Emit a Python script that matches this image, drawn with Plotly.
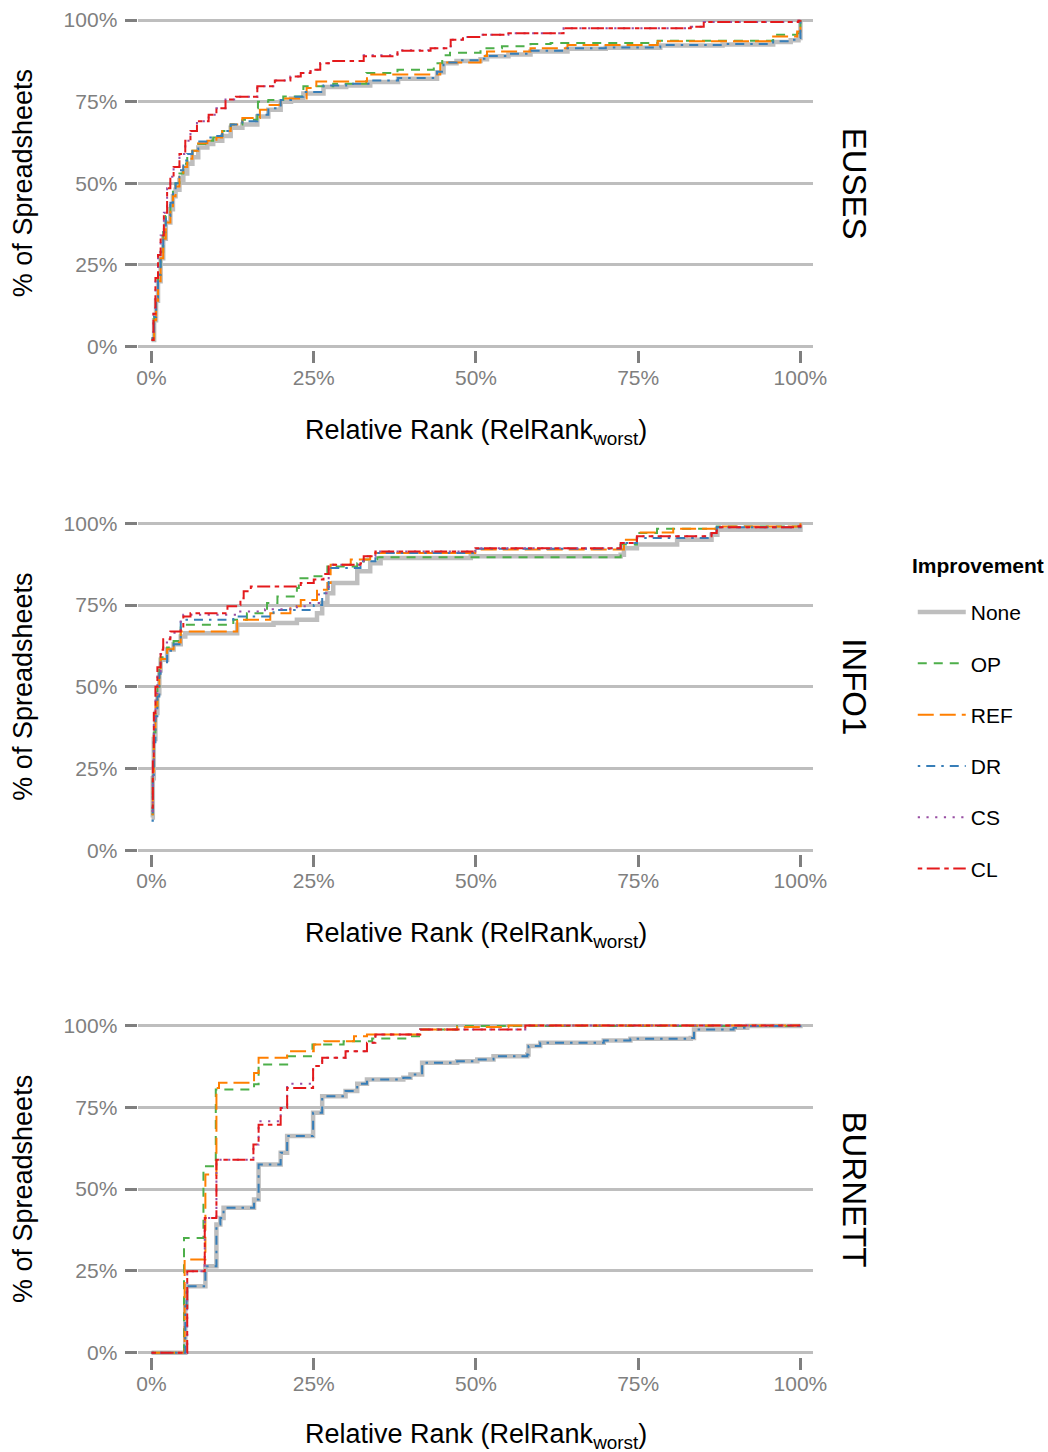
import plotly.graph_objects as go

# ---------------- data (x = relative rank %, y = % of spreadsheets) ----------------
PANELS = ["EUSES", "INFO1", "BURNETT"]
SERIES = ["None", "OP", "REF", "DR", "CS", "CL"]
TICKS = [0, 25, 50, 75, 100]
TICK_LABELS = ["0%", "25%", "50%", "75%", "100%"]

# EUSES
euses_none_x = [0, 0.4, 0.7, 1.0, 1.4, 1.8, 2.2, 2.9, 3.3, 3.7, 4.3, 4.9, 5.5, 6.3, 7.2, 8.6, 9.5, 10.9, 12.2, 14, 16.3, 18, 19.9, 21.5, 23.4, 26.5, 30, 33.7, 38, 44.0, 45.0, 47, 50.7, 51.7, 55, 58.4, 64.1, 70, 78.4, 88, 95.8, 98.5, 99.7, 100]
euses_none_y = [2, 8, 14, 20, 27, 33, 38, 42, 46, 48, 51, 53, 56, 58, 61, 62, 63, 64.5, 67, 68, 70.5, 72.5, 75, 76, 77.5, 79.5, 80, 81, 82, 84, 86.8, 87.5, 88, 88.9, 89.5, 90.4, 91.2, 91.5, 92.2, 92.5, 93.3, 93.8, 94.5, 100]
euses_dr_x = [0, 0.4, 0.7, 1.0, 1.4, 1.8, 2.2, 2.9, 3.3, 3.7, 4.3, 4.9, 5.5, 6.3, 7.2, 8.6, 9.5, 10.9, 12.2, 14, 16.3, 18, 19.9, 21.5, 23.4, 26.5, 30, 33.7, 38, 44, 45, 47, 50.7, 51.7, 55, 58.4, 64.1, 70, 78.4, 88, 95.8, 98.5, 99.7, 100]
euses_dr_y = [2.5, 9, 15, 22, 29, 35, 40, 44, 48, 50, 54, 57, 59, 60.4, 62.8, 64, 64.5, 66, 68, 69, 71, 73, 75.5, 76.5, 78, 80, 80.5, 81.5, 82.3, 84.2, 87, 87.7, 88.2, 89, 89.7, 90.6, 91.4, 91.6, 92.4, 92.7, 93.5, 94, 94.5, 100]
euses_op_x = [0, 0.4, 0.7, 1.0, 1.4, 1.8, 2.2, 2.9, 3.3, 3.7, 4.3, 4.9, 5.5, 6.3, 7.2, 8.6, 9.5, 10.9, 12.2, 14, 16.3, 16.4, 18, 20.3, 23.4, 28, 33.1, 37.9, 43.5, 44.8, 46, 50.7, 54, 58.4, 61.5, 78, 95.8, 99.5, 100]
euses_op_y = [2.5, 9, 15, 22, 29, 35, 40, 44, 48, 50, 53, 56, 58.5, 60, 62, 63, 64, 66, 68, 69.5, 73, 75, 75.5, 76.6, 79.7, 80.5, 83.8, 84.8, 86.8, 89.2, 90, 91.4, 92, 92.7, 93, 93.7, 95.5, 96, 100]
euses_ref_x = [0, 0.4, 0.7, 1.0, 1.4, 1.8, 2.2, 2.9, 3.3, 3.7, 4.3, 4.9, 5.5, 6.3, 7.2, 8.6, 10, 10.9, 12.2, 14, 16.7, 18, 19.9, 23.9, 25.4, 33.2, 44.5, 50.7, 51.7, 58.4, 64.1, 78, 95.8, 99.5, 100]
euses_ref_y = [2, 8, 14, 20, 27, 33, 38, 42, 46, 49, 52, 55, 57.5, 60, 62.3, 63, 64, 66, 68, 70, 72.5, 74, 76, 79.2, 81.2, 83.3, 87, 89, 90.4, 91.4, 92.4, 93.5, 95, 96.5, 100]
euses_cl_x = [0, 0.3, 0.6, 1.0, 1.4, 1.9, 2.4, 2.9, 3.4, 4.3, 5.2, 6, 7.0, 8.8, 10, 11.4, 13, 16.3, 19, 21.4, 23, 24.5, 26.0, 28, 32.7, 37.9, 43.0, 46.1, 48, 50.7, 55, 63.5, 83.1, 85.1, 99.7, 100]
euses_cl_y = [2, 10, 21, 28, 34, 41, 48.5, 52, 55, 59, 63, 66, 69, 71, 73, 75.7, 76.5, 79.7, 81.5, 82.7, 83.8, 84.8, 86.8, 87.5, 88.9, 90.6, 91.4, 94, 94.8, 95.5, 96, 97.5, 98, 99.4, 99.8, 100]
euses_cs_x = [0, 0.3, 0.6, 1.0, 1.4, 1.9, 2.4, 2.9, 3.4, 4.3, 5.2, 6, 7.0, 8.8, 10, 11.4, 13, 16.3, 19, 21.4, 23, 24.5, 26.0, 28, 32.7, 37.9, 43.0, 46.1, 48, 50.7, 55, 63.5, 83.1, 85.1, 99.7, 100]
euses_cs_y = [2, 10, 21, 28, 34, 41, 48.5, 52, 55, 59, 63, 66, 69, 71, 73, 75.7, 76.5, 79.7, 81.5, 82.7, 83.8, 84.8, 86.8, 87.5, 89.2, 90.8, 91.4, 94, 94.8, 95.5, 96, 97.5, 98, 99.4, 99.8, 100]

# INFO1
info1_none_x = [0, 0.2, 0.35, 0.6, 0.9, 1.2, 1.4, 2.4, 3.4, 4.5, 5.2, 13.2, 18.8, 22.4, 25.5, 26.3, 27.1, 28.0, 31.7, 33.7, 35.3, 49.2, 72.3, 72.8, 74.8, 81.0, 86.3, 87.2, 100]
info1_none_y = [10, 22, 34, 42, 48, 55, 58.3, 61.4, 63, 65.4, 66.4, 69, 69.5, 70.5, 72.5, 75.6, 78.6, 81.7, 85.3, 87.8, 89.4, 89.9, 90.4, 92.4, 93.5, 95, 96.5, 98, 100]
info1_op_x = [0, 0.2, 0.35, 0.6, 0.9, 1.2, 1.4, 2.4, 3.4, 4.5, 12.6, 14.7, 17.8, 19.4, 22.4, 22.7, 24.5, 27.1, 31.7, 32.7, 34.8, 72.3, 74.8, 77.9, 87.1, 100]
info1_op_y = [11, 24, 36, 44, 50, 56, 59, 62, 64, 69, 70.5, 72.5, 75.6, 77.6, 80.2, 83.2, 83.8, 86.8, 87.8, 88.9, 89.6, 93.5, 97, 98.3, 99, 100]
info1_ref_x = [0, 0.2, 0.35, 0.6, 0.9, 1.2, 1.4, 2.4, 3.4, 4.5, 13.2, 18.3, 21.4, 23.0, 25.5, 27.1, 27.6, 30.7, 33.7, 49.9, 72.8, 74.8, 80.4, 87.1, 100]
info1_ref_y = [11, 24, 36, 44, 50, 55, 58.5, 61.5, 63.5, 66.9, 70.5, 72.5, 74.6, 76.5, 79.7, 81.7, 87.3, 88.9, 90.9, 92, 95, 97.2, 98.3, 99, 100]
info1_dr_x = [0, 0.2, 0.35, 0.6, 0.9, 1.2, 1.4, 2.4, 3.4, 4.5, 12.6, 18.8, 25.0, 26.3, 27.3, 32.2, 34.5, 49.9, 72.3, 74.8, 86.3, 87.1, 100]
info1_dr_y = [9, 21, 33, 41, 47, 54, 57.5, 61, 63, 70.5, 71.5, 73.5, 75, 78.6, 86.3, 88.4, 90.9, 92.2, 94, 95.5, 97, 98.8, 100]
info1_cs_x = [0, 0.2, 0.35, 0.6, 0.9, 1.4, 1.8, 2.9, 4.5, 4.9, 13.2, 17.5, 22.4, 24.0, 25.8, 27.3, 32.2, 32.7, 34.5, 49.9, 72.3, 74.8, 86.3, 87.1, 99.7, 100]
info1_cs_y = [12, 26, 40, 48, 54, 60, 63.5, 66.5, 70.5, 72, 73, 73.7, 74.6, 75.6, 78.6, 87.3, 87.8, 89.9, 91.4, 92.4, 94, 96, 97, 98.8, 99, 100]
info1_cl_x = [0, 0.2, 0.35, 0.6, 0.9, 1.4, 1.8, 2.9, 4.5, 4.9, 6.0, 11.7, 13.2, 13.7, 14.2, 15.3, 23.0, 25.0, 26.5, 27.3, 32.2, 32.7, 34.5, 49.9, 72.3, 74.8, 86.3, 87.1, 99.7, 100]
info1_cl_y = [13, 28, 42, 50, 56, 61.3, 64.5, 66.9, 67.9, 71.5, 72.5, 74.6, 75, 77.1, 79.2, 80.7, 81.7, 82.8, 84.5, 87.3, 87.8, 89.9, 91.4, 92.4, 94, 96, 97, 98.8, 99, 100]

# BURNETT
burnett_none_x = [0, 5.2, 5.4, 8.3, 10.0, 10.6, 11.1, 15.8, 16.5, 19.9, 20.9, 24.9, 26.3, 29.9, 31.7, 33.2, 38.8, 39.9, 41.7, 47.1, 50.2, 52.7, 57.9, 58.1, 59.9, 69.7, 73.8, 83.1, 83.6, 89.7, 91.8, 100]
burnett_none_y = [0, 14.2, 20.3, 26.4, 39.2, 41.2, 44.3, 46.8, 57.5, 61.1, 66.2, 73.3, 78.4, 80, 82.2, 83.5, 84, 85, 88.6, 89.1, 89.6, 90.6, 91.1, 93.7, 94.7, 95.4, 95.9, 96.2, 98.8, 99.3, 99.8, 100]
burnett_op_x = [0, 5.0, 8.0, 9.9, 15.8, 16.5, 20.9, 24.8, 29.6, 34, 39.9, 41.4, 47.1, 100]
burnett_op_y = [0, 35.1, 57, 80.4, 82, 88.1, 90.6, 94.2, 95.2, 96, 96.7, 98.8, 99.8, 100]
burnett_ref_x = [0, 5.1, 8.3, 10.0, 10.4, 15.8, 16.5, 20.9, 25.0, 26.6, 31.2, 33.2, 41.4, 47.1, 55, 100]
burnett_ref_y = [0, 28.5, 54.5, 80.9, 82.5, 85.5, 90.1, 92.1, 94.2, 95.2, 96.7, 97.2, 98.8, 99.5, 100, 100]
burnett_dr_x = [0, 5.2, 5.4, 8.3, 10.0, 10.6, 11.1, 15.8, 16.5, 19.9, 20.9, 24.9, 26.3, 29.9, 31.7, 33.2, 38.8, 39.9, 41.7, 47.1, 50.2, 52.7, 57.9, 58.1, 59.9, 69.7, 73.8, 83.1, 83.6, 89.7, 91.8, 100]
burnett_dr_y = [0, 14.2, 20.3, 26.4, 39.2, 41.2, 44.3, 46.8, 57.5, 61.1, 66.2, 73.3, 78.4, 80, 82.2, 83.5, 84, 85, 88.6, 89.1, 89.6, 90.6, 91.1, 93.7, 94.7, 95.4, 95.9, 96.2, 98.8, 99.3, 99.8, 100]
burnett_cs_x = [0, 5.5, 8.2, 10.0, 15.7, 16.5, 19.9, 20.9, 24.9, 26.3, 29.9, 33.2, 34.5, 41.4, 57.6, 100]
burnett_cs_y = [0, 24.9, 41.2, 59, 63.6, 70.7, 74.8, 82.2, 87.6, 90.1, 92.1, 94.7, 97.2, 98.8, 100, 100]
burnett_cl_x = [0, 5.5, 8.2, 10.0, 15.7, 16.5, 19.9, 20.9, 24.9, 26.3, 29.9, 33.2, 34.5, 41.4, 57.6, 100]
burnett_cl_y = [0, 24.9, 41.2, 59, 63.6, 69.7, 74.8, 80.9, 87.6, 90.1, 92.1, 94.7, 97.2, 98.8, 100, 100]

DATA = {
    "EUSES": {"None": (euses_none_x, euses_none_y), "OP": (euses_op_x, euses_op_y),
              "REF": (euses_ref_x, euses_ref_y), "DR": (euses_dr_x, euses_dr_y),
              "CS": (euses_cs_x, euses_cs_y), "CL": (euses_cl_x, euses_cl_y)},
    "INFO1": {"None": (info1_none_x, info1_none_y), "OP": (info1_op_x, info1_op_y),
              "REF": (info1_ref_x, info1_ref_y), "DR": (info1_dr_x, info1_dr_y),
              "CS": (info1_cs_x, info1_cs_y), "CL": (info1_cl_x, info1_cl_y)},
    "BURNETT": {"None": (burnett_none_x, burnett_none_y), "OP": (burnett_op_x, burnett_op_y),
                "REF": (burnett_ref_x, burnett_ref_y), "DR": (burnett_dr_x, burnett_dr_y),
                "CS": (burnett_cs_x, burnett_cs_y), "CL": (burnett_cl_x, burnett_cl_y)},
}

# ---------------- styles ----------------
STYLE = {
    "None": dict(color="#BEBEBE", width=4.5, dash="solid"),
    "OP": dict(color="#4DAF4A", width=2, dash="9px,7px"),
    "REF": dict(color="#FF7F00", width=2, dash="16px,6px"),
    "DR": dict(color="#377EB8", width=2, dash="2.5px,6px,9px,6px"),
    "CS": dict(color="#984EA3", width=2, dash="2.2px,6.5px"),
    "CL": dict(color="#E41A1C", width=2, dash="4.5px,4.5px,13px,4.5px"),
}

FONT = "Liberation Sans, Arial, Helvetica, sans-serif"
W, H = 1048, 1452

# pixel geometry of panels (layout pixels)
X_LEFT, X_RIGHT = 138.5, 824.2
X_RANGE = [-2.16, 102.0]
Y_RANGE = [-1.2, 101.2]
PANEL_TOP = [8.3, 516.7, 1024.1]
PANEL_BOT = [345.9, 855.0, 1362.8]
XTITLE_Y = [428.3, 936.4, 1442.5]

fig = go.Figure()
for i, panel in enumerate(PANELS):
    sfx = "" if i == 0 else str(i + 1)
    for s in SERIES:
        xs, ys = DATA[panel][s]
        st = STYLE[s]
        fig.add_trace(go.Scatter(
            x=xs, y=ys, mode="lines", name=s, legendgroup=s,
            showlegend=(i == 0), line_shape="hv",
            line=dict(color=st["color"], width=st["width"], dash=st["dash"]),
            xaxis="x" + sfx, yaxis="y" + sfx, hoverinfo="skip",
        ))

layout = dict(
    width=W, height=H, autosize=False,
    margin=dict(l=0, r=0, t=0, b=0, pad=0),
    paper_bgcolor="white", plot_bgcolor="white",
    font=dict(family=FONT, color="black"),
    legend=dict(
        x=925 / W, xanchor="left", y=1 - 590 / H, yanchor="top",
        font=dict(size=21, family=FONT), tracegroupgap=21, itemwidth=48,
        bgcolor="rgba(0,0,0,0)",
    ),
)

annotations = [dict(
    text="<b>Improvement</b>", x=922 / W, y=1 - 563.7 / H, xref="paper", yref="paper",
    showarrow=False, xanchor="left", yanchor="middle",
    font=dict(size=21, family=FONT, color="black"),
)]
for i, panel in enumerate(PANELS):
    sfx = "" if i == 0 else str(i + 1)
    dom_y = [1 - PANEL_BOT[i] / H, 1 - PANEL_TOP[i] / H]
    layout["xaxis" + sfx] = dict(
        domain=[X_LEFT / W, X_RIGHT / W], range=X_RANGE, anchor="y" + sfx,
        showgrid=False, zeroline=False, showline=False,
        ticks="outside", ticklen=12, tickwidth=3, tickcolor="#7F7F7F",
        tickvals=TICKS, ticktext=TICK_LABELS,
        tickfont=dict(size=21, color="#7F7F7F", family=FONT), ticklabelstandoff=-4,
        fixedrange=True,
    )
    layout["yaxis" + sfx] = dict(
        domain=dom_y, range=Y_RANGE, anchor="x" + sfx,
        showgrid=True, gridcolor="#BEBEBE", gridwidth=2.5,
        zeroline=False, showline=False,
        ticks="outside", ticklen=12, tickwidth=3, tickcolor="#7F7F7F",
        tickvals=TICKS, ticktext=TICK_LABELS,
        tickfont=dict(size=21, color="#7F7F7F", family=FONT), ticklabelstandoff=3,
        fixedrange=True,
    )
    cy = 1 - (PANEL_TOP[i] + PANEL_BOT[i]) / 2 / H
    annotations.append(dict(
        text=panel, x=866 / W, y=cy, xref="paper", yref="paper",
        textangle=90, showarrow=False, xanchor="center", yanchor="middle",
        font=dict(size=33, family=FONT, color="black"),
    ))
    annotations.append(dict(
        text="% of Spreadsheets", x=22.2 / W, y=cy, xref="paper", yref="paper",
        textangle=-90, showarrow=False, xanchor="center", yanchor="middle",
        font=dict(size=27, family=FONT, color="black"),
    ))
    annotations.append(dict(
        text="Relative Rank (RelRank<sub>worst</sub>)", x=482 / W,
        y=1 - XTITLE_Y[i] / H, xref="paper", yref="paper",
        showarrow=False, xanchor="center", yanchor="middle",
        font=dict(size=27, family=FONT, color="black"),
    ))
layout["annotations"] = annotations
fig.update_layout(**layout)

fig.write_html("out.html")
